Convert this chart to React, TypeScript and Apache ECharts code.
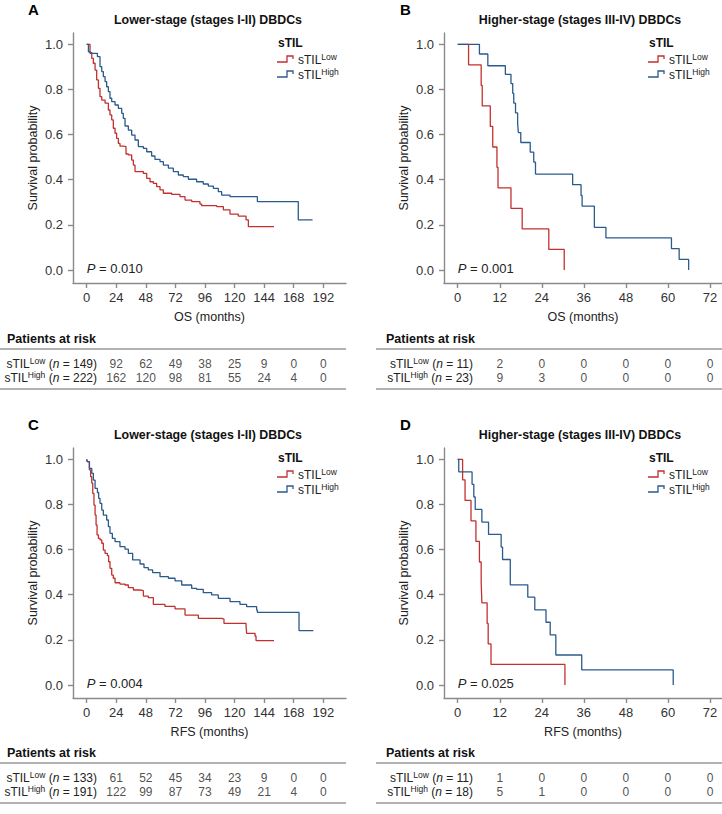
import React, { useEffect, useRef } from "react";
import * as echarts from "echarts";

const FONT = '"Liberation Sans", Arial, Helvetica, sans-serif';
const RED = "#C1312F";
const BLUE = "#2B5A8D";
const AXIS_COLOR = "#8a8a8a";
const TEXT = "#222";

// ---- tick labels ----
const LOWER_TICKS = [0, 24, 48, 72, 96, 120, 144, 168, 192];
const HIGHER_TICKS = [0, 12, 24, 36, 48, 60, 72];
const Y_TICKS = [0, 0.2, 0.4, 0.6, 0.8, 1.0];
const LOWER_RISK_TIMES = [24, 48, 72, 96, 120, 144, 168, 192];
const HIGHER_RISK_TIMES = [12, 24, 36, 48, 60, 72];

// ---- A: OS, lower stage ----
const osLowerLow = [
  [0, 1], [2.7, 0.963], [4.1, 0.938], [5.4, 0.916], [6.8, 0.886], [8.1, 0.842], [9.5, 0.805],
  [10.8, 0.768], [12.2, 0.753], [14.9, 0.739], [17.6, 0.709], [18.9, 0.687], [20.3, 0.665],
  [21.6, 0.628], [23, 0.606], [24.3, 0.583], [25.7, 0.561], [27, 0.549], [29.7, 0.547],
  [31.9, 0.514], [33.8, 0.51], [36.5, 0.487], [37.9, 0.465], [39.2, 0.436], [46, 0.428],
  [48.7, 0.406], [51.4, 0.391], [54.1, 0.384], [56.8, 0.369], [59.5, 0.355], [62.2, 0.34],
  [69, 0.335], [75.7, 0.325], [79.8, 0.31], [85.2, 0.303], [91.9, 0.292], [93.3, 0.285],
  [105.5, 0.281], [110.9, 0.266], [116.3, 0.248], [123, 0.239], [129.3, 0.222], [131.2, 0.192],
  [152, 0.192],
];
const osLowerHigh = [
  [0, 1], [1.4, 0.967], [2.7, 0.96], [8.7, 0.945], [10.8, 0.901], [12.2, 0.879], [13.5, 0.857],
  [14.9, 0.835], [16.2, 0.812], [17.6, 0.79], [18.9, 0.761], [20.3, 0.746], [23, 0.731],
  [25.7, 0.716], [28.4, 0.694], [29.7, 0.672], [31.1, 0.638], [33.8, 0.62], [36.5, 0.598],
  [39.2, 0.576], [41.9, 0.547], [46, 0.539], [48.7, 0.524], [52.7, 0.505], [55.4, 0.49],
  [59.5, 0.48], [62.2, 0.465], [66.3, 0.451], [70.3, 0.436], [74.4, 0.421], [78.4, 0.414],
  [82.5, 0.402], [89.2, 0.391], [94.6, 0.381], [98.7, 0.372], [102.8, 0.362], [106.8, 0.347],
  [109.5, 0.332], [116.3, 0.325], [138.5, 0.303], [171.7, 0.222], [183.3, 0.222],
];
const osLowerRiskLow = [92, 62, 49, 38, 25, 9, 0, 0];
const osLowerRiskHigh = [162, 120, 98, 81, 55, 24, 4, 0];

// ---- B: OS, higher stage ----
const osHigherLow = [
  [0, 1], [3.1, 0.909], [6.7, 0.818], [7.0, 0.727], [9.3, 0.636], [10, 0.545], [11.2, 0.455],
  [11.5, 0.364], [15.2, 0.273], [18.4, 0.182], [26, 0.091], [30.4, 0],
];
const osHigherHigh = [
  [0, 1], [6.2, 0.957], [8.6, 0.905], [13.6, 0.867], [15.2, 0.826], [15.7, 0.783], [16, 0.739],
  [16.5, 0.696], [17.1, 0.652], [17.3, 0.609], [18, 0.565], [20.7, 0.522], [21.7, 0.478],
  [22.2, 0.425], [32.8, 0.378], [35.2, 0.33], [35.5, 0.283], [39, 0.189], [42.3, 0.142],
  [61, 0.095], [63.2, 0.047], [65.9, 0],
];
const osHigherRiskLow = [2, 0, 0, 0, 0, 0];
const osHigherRiskHigh = [9, 3, 0, 0, 0, 0];

// ---- C: RFS, lower stage ----
const rfsLowerLow = [
  [0, 1], [0.5, 0.99], [2.2, 0.953], [3.2, 0.923], [4.1, 0.894], [4.9, 0.849], [5.9, 0.797],
  [6.8, 0.753], [7.6, 0.709], [8.4, 0.665], [9.5, 0.65], [10.8, 0.643], [12.2, 0.628],
  [13.5, 0.598], [14.9, 0.583], [16.8, 0.573], [17.8, 0.546], [18.9, 0.517], [20.3, 0.487],
  [21.6, 0.473], [23, 0.453], [27, 0.447], [31.1, 0.443], [33.8, 0.431], [37.9, 0.421],
  [43.3, 0.418], [46, 0.394], [50, 0.387], [54.1, 0.357], [63.5, 0.348], [71.7, 0.337],
  [79.8, 0.31], [90.6, 0.295], [109.5, 0.292], [111.4, 0.273], [129.3, 0.263], [129.8, 0.229],
  [136.6, 0.217], [137.4, 0.197], [152, 0.197],
];
const rfsLowerHigh = [
  [0, 1], [0.5, 0.99], [2.2, 0.96], [4.1, 0.938], [5.4, 0.908], [6.8, 0.871], [8.7, 0.853],
  [9.7, 0.827], [10.8, 0.805], [12.2, 0.775], [13.5, 0.753], [16.2, 0.731], [17.6, 0.702],
  [18.9, 0.672], [20.8, 0.65], [23, 0.635], [27, 0.613], [31.1, 0.602], [33.8, 0.583],
  [37.3, 0.554], [43.3, 0.536], [46.5, 0.52], [50, 0.51], [53.5, 0.498], [59.5, 0.48],
  [66.3, 0.473], [71.7, 0.461], [77.1, 0.443], [85.2, 0.428], [89.2, 0.424], [94.6, 0.409],
  [101.4, 0.399], [106.8, 0.384], [116.3, 0.369], [124.4, 0.357], [129.8, 0.347],
  [137.9, 0.332], [138.5, 0.322], [172.3, 0.241], [183.9, 0.241],
];
const rfsLowerRiskLow = [61, 52, 45, 34, 23, 9, 0, 0];
const rfsLowerRiskHigh = [122, 99, 87, 73, 49, 21, 4, 0];

// ---- D: RFS, higher stage ----
const rfsHigherLow = [
  [0, 1], [1.4, 0.909], [2.1, 0.818], [3.8, 0.727], [5.2, 0.636], [6.2, 0.545], [6.7, 0.455],
  [6.9, 0.364], [8.4, 0.273], [8.7, 0.182], [9.5, 0.091], [30.6, 0],
];
const rfsHigherHigh = [
  [0, 1], [0.3, 0.944], [4.1, 0.889], [4.6, 0.833], [5.0, 0.778], [6.9, 0.722], [8.8, 0.667],
  [12.4, 0.611], [12.8, 0.556], [15, 0.444], [20, 0.389], [22, 0.333], [25.2, 0.278],
  [26.4, 0.222], [28, 0.133], [35.4, 0.067], [61.5, 0],
];
const rfsHigherRiskLow = [1, 0, 0, 0, 0, 0];
const rfsHigherRiskHigh = [5, 1, 0, 0, 0, 0];

// ---- layout ----
const COLS = [
  { gridLeft: 73, gridRight: 346, t0Px: 86.7, tEndPx: 323.3, letterX: 28, titleX: 208, legendX: 277, riskTitleX: 7, rowLabelRight: 97, lineLeft: 0, lineRight: 346 },
  { gridLeft: 444, gridRight: 722, t0Px: 457.7, tEndPx: 710, letterX: 400, titleX: 580, legendX: 648, riskTitleX: 386, rowLabelRight: 473, lineLeft: 376, lineRight: 722 },
];
const ROW_OFF = [0, 415];
const TABLE_OFF = [0, 414];
const GRID_TOP = 33;
const GRID_H = 250;
const Y1_PX = 44.3;
const Y0_PX = 270;

const PANELS = [
  { letter: "A", col: 0, row: 0, title: "Lower-stage (stages I-II) DBDCs", xName: "OS (months)", p: "0.010", tEnd: 192, ticks: LOWER_TICKS, riskTimes: LOWER_RISK_TIMES, low: osLowerLow, high: osLowerHigh, nLow: 149, nHigh: 222, riskLow: osLowerRiskLow, riskHigh: osLowerRiskHigh },
  { letter: "B", col: 1, row: 0, title: "Higher-stage (stages III-IV) DBDCs", xName: "OS (months)", p: "0.001", tEnd: 72, ticks: HIGHER_TICKS, riskTimes: HIGHER_RISK_TIMES, low: osHigherLow, high: osHigherHigh, nLow: 11, nHigh: 23, riskLow: osHigherRiskLow, riskHigh: osHigherRiskHigh },
  { letter: "C", col: 0, row: 1, title: "Lower-stage (stages I-II) DBDCs", xName: "RFS (months)", p: "0.004", tEnd: 192, ticks: LOWER_TICKS, riskTimes: LOWER_RISK_TIMES, low: rfsLowerLow, high: rfsLowerHigh, nLow: 133, nHigh: 191, riskLow: rfsLowerRiskLow, riskHigh: rfsLowerRiskHigh },
  { letter: "D", col: 1, row: 1, title: "Higher-stage (stages III-IV) DBDCs", xName: "RFS (months)", p: "0.025", tEnd: 72, ticks: HIGHER_TICKS, riskTimes: HIGHER_RISK_TIMES, low: rfsHigherLow, high: rfsHigherHigh, nLow: 11, nHigh: 18, riskLow: rfsHigherRiskLow, riskHigh: rfsHigherRiskHigh },
];

const LEGEND_KEY = [[0, 6], [10, 6], [10, 0], [16, 0], [16, 3]];

function buildOption() {
  const grid: any[] = [];
  const xAxis: any[] = [];
  const yAxis: any[] = [];
  const series: any[] = [];
  const elements: any[] = [];

  const yPerUnit = Y0_PX - Y1_PX;
  const yMin = -(GRID_TOP + GRID_H - Y0_PX) / yPerUnit;
  const yMax = 1 + (Y1_PX - GRID_TOP) / yPerUnit;

  const axisLineStyle = { color: AXIS_COLOR, width: 1.4 };

  PANELS.forEach((p, i) => {
    const c = COLS[p.col];
    const off = ROW_OFF[p.row];
    const toff = TABLE_OFF[p.row];
    const ppm = (c.tEndPx - c.t0Px) / p.tEnd;
    const xMin = (c.gridLeft - c.t0Px) / ppm;
    const xMax = p.tEnd + (c.gridRight - c.tEndPx) / ppm;
    const gi = i * 2;

    // main plot grid
    grid.push({ left: c.gridLeft, top: GRID_TOP + off, width: c.gridRight - c.gridLeft, height: GRID_H, outerBoundsMode: "none", containLabel: false });
    xAxis.push({
      type: "value", gridIndex: gi, min: xMin, max: xMax,
      axisLine: { show: true, onZero: false, lineStyle: axisLineStyle },
      axisTick: { show: true, customValues: p.ticks, length: 5, lineStyle: axisLineStyle },
      axisLabel: { customValues: p.ticks, margin: 8, fontSize: 13, color: "#333", fontFamily: FONT },
      splitLine: { show: false },
      name: p.xName, nameLocation: "middle", nameGap: 27, nameMoveOverlap: false,
      nameTextStyle: { fontSize: 12.5, color: TEXT, fontFamily: FONT },
    });
    yAxis.push({
      type: "value", gridIndex: gi, min: yMin, max: yMax,
      axisLine: { show: true, onZero: false, lineStyle: axisLineStyle },
      axisTick: { show: true, customValues: Y_TICKS, length: 5, lineStyle: axisLineStyle },
      axisLabel: { customValues: Y_TICKS, margin: 10, fontSize: 13, color: "#333", fontFamily: FONT, formatter: (v: number) => v.toFixed(1) },
      splitLine: { show: false },
      name: "Survival probability", nameLocation: "middle", nameGap: 34, nameMoveOverlap: false,
      nameTextStyle: { fontSize: 12.5, color: TEXT, fontFamily: FONT },
    });
    series.push({
      name: "sTIL Low", type: "line", step: "end", xAxisIndex: gi, yAxisIndex: gi,
      data: p.low, showSymbol: false, symbol: "none", silent: true,
      lineStyle: { color: RED, width: 1.3 }, itemStyle: { color: RED },
    });
    series.push({
      name: "sTIL High", type: "line", step: "end", xAxisIndex: gi, yAxisIndex: gi,
      data: p.high, showSymbol: false, symbol: "none", silent: true,
      lineStyle: { color: BLUE, width: 1.3 }, itemStyle: { color: BLUE },
    });

    // risk table grid
    const tLeft = c.rowLabelRight + 3;
    const tMin = (tLeft - c.t0Px) / ppm;
    grid.push({ left: tLeft, top: 357 + toff, width: c.gridRight - tLeft, height: 28, outerBoundsMode: "none", containLabel: false });
    xAxis.push({ type: "value", gridIndex: gi + 1, min: tMin, max: xMax, show: false });
    const rowLabel = (n: number, grp: string) => `{m|sTIL}{sup|${grp}}{m| (}{i|n}{m| = ${n})}`;
    yAxis.push({
      type: "category", gridIndex: gi + 1, data: ["Low", "High"], inverse: true,
      axisLine: { show: false }, axisTick: { show: false }, splitLine: { show: false },
      axisLabel: {
        interval: 0, margin: 3,
        formatter: (v: string) => (v === "Low" ? rowLabel(p.nLow, "Low") : rowLabel(p.nHigh, "High")),
        rich: {
          m: { fontSize: 12, color: TEXT, fontFamily: FONT, lineHeight: 16 },
          i: { fontSize: 12, color: TEXT, fontFamily: FONT, fontStyle: "italic", lineHeight: 16 },
          sup: { fontSize: 8.5, color: TEXT, fontFamily: FONT, lineHeight: 6, verticalAlign: "top" },
        },
      },
    });
    const mkRisk = (vals: number[], grp: string) => p.riskTimes.map((t, k) => [t, grp, vals[k]]);
    [["Low", p.riskLow], ["High", p.riskHigh]].forEach(([grp, vals]: any) => {
      series.push({
        name: "risk " + grp, type: "scatter", xAxisIndex: gi + 1, yAxisIndex: gi + 1,
        data: mkRisk(vals, grp), symbolSize: 1, silent: true,
        itemStyle: { color: "rgba(0,0,0,0)" },
        label: { show: true, position: "inside", formatter: (d: any) => String(d.value[2]), fontSize: 12, color: TEXT, fontFamily: FONT },
      });
    });

    // annotations
    elements.push({ type: "text", x: c.letterX, y: 9 + off, style: { text: p.letter, fontSize: 15, fontWeight: "bold", fontFamily: FONT, fill: "#000", align: "left", verticalAlign: "middle" } });
    elements.push({ type: "text", x: c.titleX, y: 20 + off, style: { text: p.title, fontSize: 12.4, fontWeight: "bold", fontFamily: FONT, fill: "#111", align: "center", verticalAlign: "middle" } });
    elements.push({
      type: "text", x: c.t0Px, y: 268 + off,
      style: {
        text: `{i|P}{m| = ${p.p}}`, align: "left", verticalAlign: "middle",
        rich: {
          i: { fontSize: 13, fontStyle: "italic", fontFamily: FONT, fill: TEXT },
          m: { fontSize: 13, fontFamily: FONT, fill: TEXT },
        },
      },
    });
    // legend
    elements.push({ type: "text", x: c.legendX + 1, y: 43 + off, style: { text: "sTIL", fontSize: 12, fontWeight: "bold", fontFamily: FONT, fill: "#111", align: "left", verticalAlign: "middle" } });
    [["Low", RED, 60], ["High", BLUE, 75]].forEach(([grp, col, yy]: any) => {
      elements.push({ type: "polyline", x: c.legendX, y: yy - 4 + off, shape: { points: LEGEND_KEY }, style: { stroke: col, lineWidth: 1.3, fill: null } });
      elements.push({
        type: "text", x: c.legendX + 21, y: yy + off,
        style: {
          text: `{m|sTIL}{sup|${grp}}`, align: "left", verticalAlign: "middle",
          rich: {
            m: { fontSize: 12, fontFamily: FONT, fill: TEXT, lineHeight: 16 },
            sup: { fontSize: 8.5, fontFamily: FONT, fill: TEXT, lineHeight: 6, verticalAlign: "top" },
          },
        },
      });
    });
    // risk table title and rules
    elements.push({ type: "text", x: c.riskTitleX, y: 339 + toff, style: { text: "Patients at risk", fontSize: 12.5, fontWeight: "bold", fontFamily: FONT, fill: "#111", align: "left", verticalAlign: "middle" } });
    [349, 389].forEach((yy) => {
      elements.push({ type: "line", shape: { x1: c.lineLeft, y1: yy + toff, x2: c.lineRight, y2: yy + toff }, style: { stroke: "#666", lineWidth: 1.2 } });
    });
  });

  return {
    animation: false,
    backgroundColor: "#ffffff",
    textStyle: { fontFamily: FONT },
    grid, xAxis, yAxis, series,
    graphic: { elements },
  };
}

export default function App() {
  const ref = useRef<HTMLDivElement>(null);
  useEffect(() => {
    document.body.style.margin = "0";
    if (!ref.current) return;
    const chart = echarts.init(ref.current, undefined, { renderer: "svg" });
    chart.setOption(buildOption() as any);
    return () => chart.dispose();
  }, []);
  return <div ref={ref} style={{ width: 722, height: 814 }} />;
}
